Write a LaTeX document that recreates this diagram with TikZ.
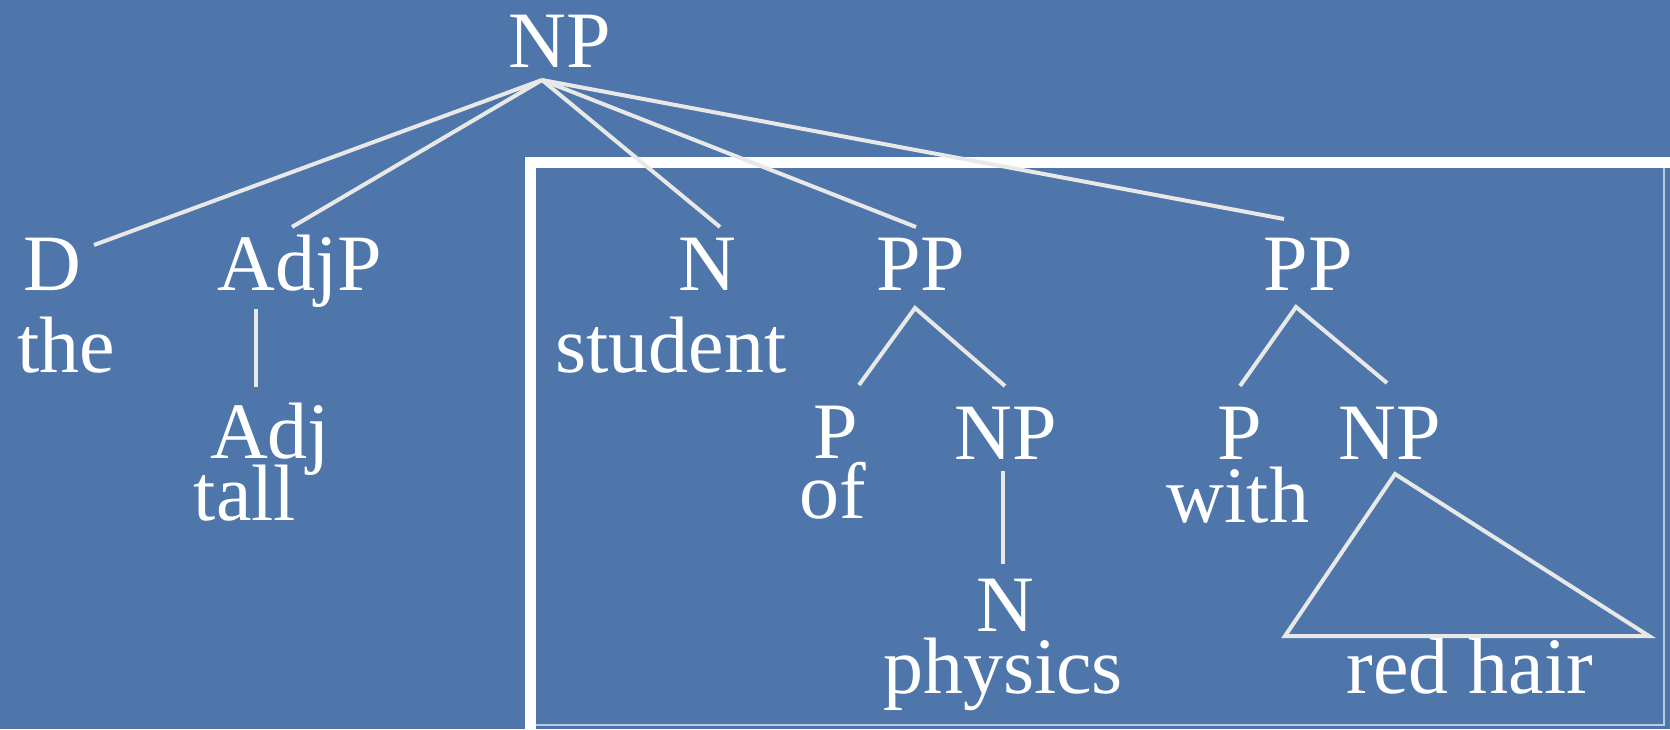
\documentclass[tikz,border=0pt]{standalone}
\usepackage{fontspec}
\setmainfont{Liberation Serif}
\usetikzlibrary{positioning}
\definecolor{slidebg}{HTML}{4E76AA}
\definecolor{branchgrey}{HTML}{E8E8E8}
\definecolor{frameedge}{HTML}{FFFFFF}
\definecolor{thinedge}{HTML}{B9CBE3}

\begin{document}
\begin{tikzpicture}[
  every node/.style={inner sep=0pt, anchor=base, text=white},
  cat/.style={font=\fontsize{40}{48}\selectfont},
  word/.style={font=\fontsize{40}{48}\selectfont},
  branch/.style={draw=branchgrey, line width=2pt},
  frame/.style={draw=frameedge, line width=5.5pt, miter limit=10},
  x=0.5pt, y=-0.5pt
]

% background, also fixes the bounding box
\fill[slidebg] (0,0) rectangle (1670,729);
\useasboundingbox (0,0) rectangle (1670,729);

% box round N and the two PPs
\draw[frame] (530,729) -- (530,162.5) -- (1670,162.5);
\draw[thinedge, line width=0.6pt] (536,725) -- (1664,725) -- (1664,168);

% Top node
\node[cat] (np) at (560,67) {NP};

% Daughters of NP
\node[cat]  (d)       at (52,290)  {D};
\node[word] (the)     at (66,372)  {the};
\node[cat]  (adjp)    at (300,290) {AdjP};
\node[cat]  (adj)     at (270,458) {Adj};
\node[word] (tall)    at (245,520) {tall};
\node[cat]  (n)       at (707,290) {N};
\node[word] (student) at (671,372) {student};
\node[cat]  (pp1)     at (921,290) {PP};
\node[cat]  (pp2)     at (1308,290) {PP};

% PP: of physics
\node[cat]  (p1)      at (836,458)  {P};
\node[word] (of)      at (833,518)  {of};
\node[cat]  (np1)     at (1006,459) {NP};
\node[cat]  (n1)      at (1005,631) {N};
\node[word] (physics) at (1003,693) {physics};

% PP: with red hair
\node[cat]  (p2)      at (1240,459) {P};
\node[word] (with)    at (1238,522) {with};
\node[cat]  (np2)     at (1390,459) {NP};
\node[word] (redhair) at (1470,693) {red hair};

% branch ends
\coordinate (np-foot)   at (542,80);
\coordinate (d-top)     at (94,245);
\coordinate (adjp-top)  at (292,227);
\coordinate (n-top)     at (720,227);
\coordinate (pp1-top)   at (916,227);
\coordinate (pp2-top)   at (1284,219);
\coordinate (adjp-foot) at (256,309);
\coordinate (adj-top)   at (256,387);
\coordinate (pp1-foot)  at (915,308);
\coordinate (p1-top)    at (859,385);
\coordinate (np1-top)   at (1005,386);
\coordinate (pp2-foot)  at (1296,307);
\coordinate (p2-top)    at (1240,386);
\coordinate (np2-top)   at (1387,383);
\coordinate (np1-foot)  at (1003,471);
\coordinate (n1-top)    at (1003,564);
\coordinate (np2-foot)  at (1395,474);
\coordinate (tri-left)  at (1285,636);
\coordinate (tri-right) at (1649,636);

% branches
\foreach \kid in {d,adjp,n,pp1,pp2}
  \draw[branch] (np-foot) -- (\kid-top);
\draw[branch] (adjp-foot) -- (adj-top);
\draw[branch] (p1-top) -- (pp1-foot) -- (np1-top);
\draw[branch] (p2-top) -- (pp2-foot) -- (np2-top);
\draw[branch] (np1-foot) -- (n1-top);
\draw[branch] (np2-foot) -- (tri-left) -- (tri-right) -- cycle;

\end{tikzpicture}
\end{document}
